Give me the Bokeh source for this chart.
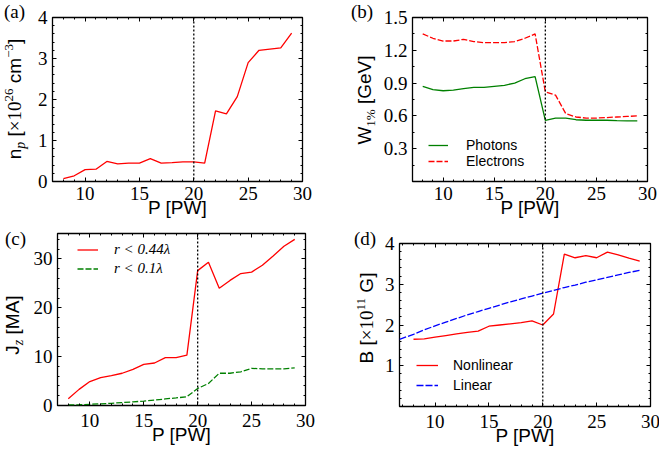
from bokeh.plotting import figure
from bokeh.models import Range1d, LinearAxis, FixedTicker, Span, Legend, LegendItem, Div
from bokeh.layouts import column, row
from bokeh.embed import file_html
from bokeh.resources import INLINE

# ---------------- data ----------------
P = [8, 9, 10, 11, 12, 13, 14, 15, 16, 17, 18, 19, 20, 21, 22, 23, 24, 25, 26, 27, 28, 29]
n_p = [0.07, 0.14, 0.29, 0.30, 0.49, 0.43, 0.45, 0.45, 0.56, 0.45, 0.46, 0.48,
       0.48, 0.45, 1.72, 1.65, 2.07, 2.90, 3.20, 3.23, 3.26, 3.62]
W_photons = [0.87, 0.84, 0.83, 0.835, 0.85, 0.86, 0.86, 0.87, 0.88, 0.90, 0.94, 0.96,
             0.56, 0.58, 0.58, 0.565, 0.56, 0.56, 0.56, 0.557, 0.555, 0.555]
W_electrons = [1.35, 1.31, 1.285, 1.285, 1.30, 1.28, 1.27, 1.27, 1.27, 1.28, 1.31, 1.35,
               0.82, 0.79, 0.62, 0.59, 0.58, 0.58, 0.585, 0.59, 0.595, 0.60]
J_r044 = [1.4, 3.3, 4.9, 5.7, 6.1, 6.6, 7.4, 8.4, 8.7, 9.8, 9.8, 10.3,
          27.6, 29.3, 24.0, 25.6, 27.0, 27.3, 28.7, 30.6, 32.6, 34.0]
J_r01 = [0.1, 0.15, 0.25, 0.35, 0.45, 0.6, 0.75, 0.9, 1.1, 1.35, 1.55, 1.8,
         3.5, 4.5, 6.6, 6.6, 6.9, 7.6, 7.5, 7.5, 7.5, 7.7]
B_nonlinear = [1.65, 1.66, 1.70, 1.74, 1.78, 1.82, 1.85, 1.97, 2.00, 2.03, 2.06, 2.10,
               2.00, 2.27, 3.74, 3.65, 3.70, 3.65, 3.79, 3.72, 3.64, 3.57]
P_linear = [6.7, 8, 9, 10, 11, 12, 13, 14, 15, 16, 17, 18, 19, 20, 21, 22, 23, 24, 25, 26, 27, 28, 29]
B_linear = [1.65, 1.77, 1.88, 1.98, 2.07, 2.16, 2.25, 2.33, 2.41, 2.49, 2.57, 2.64, 2.71,
            2.78, 2.85, 2.92, 2.98, 3.05, 3.11, 3.17, 3.23, 3.29, 3.34]
P_threshold = 20

x_ticks = [10, 15, 20, 25, 30]
ya_ticks = [0, 1, 2, 3, 4]
yb_ticks = [0.3, 0.6, 0.9, 1.2, 1.5]
yc_ticks = [0, 10, 20, 30]
yd_ticks = [1, 2, 3, 4]

SERIF = "Liberation Serif"
SANS = "Liberation Sans"
RED, GREEN, BLUE = "#ff0000", "#008000", "#0000ff"


def minor_list(lo, hi, step, majors):
    out = []
    k = 0
    while True:
        v = round(lo + k * step, 6)
        if v > hi + 1e-9:
            break
        if all(abs(v - m) > 1e-6 for m in majors):
            out.append(v)
        k += 1
    return out


def make_fig(xr, yr, fw, fh, bl, br, bt, bb, yticks, yminor_step, xstand):
    p = figure(frame_width=fw, frame_height=fh, min_border_left=bl, min_border_right=br,
               min_border_top=bt, min_border_bottom=bb, x_range=Range1d(*xr), y_range=Range1d(*yr),
               output_backend="svg", toolbar_location=None)
    p.xgrid.visible = False
    p.ygrid.visible = False
    p.outline_line_color = "black"
    p.outline_line_width = 1.3
    p.background_fill_color = "white"
    p.border_fill_color = "white"
    bottom = p.below[0]
    left = p.left[0]
    xt = FixedTicker(ticks=x_ticks, minor_ticks=minor_list(6, 30, 1, x_ticks))
    yt = FixedTicker(ticks=yticks, minor_ticks=minor_list(0, yr[1], yminor_step, yticks))
    bottom.ticker = xt
    left.ticker = yt
    top = LinearAxis(ticker=xt)
    right = LinearAxis(ticker=yt)
    p.add_layout(top, "above")
    p.add_layout(right, "right")
    for ax in [bottom, left, top, right]:
        ax.axis_line_color = None
        ax.major_tick_in = 4
        ax.major_tick_out = 0
        ax.minor_tick_in = 2
        ax.minor_tick_out = 0
        ax.major_tick_line_color = "black"
        ax.minor_tick_line_color = "black"
        ax.major_label_text_font = SERIF
        ax.major_label_text_font_size = "19px"
        ax.major_label_text_color = "black"
    for ax in [top, right]:
        ax.major_label_text_font_size = "1px"
        ax.major_label_text_color = None
        ax.major_label_standoff = 0
    bottom.major_label_standoff = xstand
    left.major_label_standoff = 5
    bottom.axis_label = "P [PW]"
    bottom.axis_label_text_font = SANS
    bottom.axis_label_text_font_size = "19px"
    bottom.axis_label_text_font_style = "normal"
    bottom.axis_label_text_color = "black"
    bottom.axis_label_standoff = -6
    p.add_layout(Span(location=P_threshold, dimension="height", line_color="black",
                      line_dash="2 2", line_width=1.3))
    return p


def legend(p, items, loc, gw, gh, standoff, font, style, size, spacing=0):
    lg = Legend(items=[LegendItem(label=l, renderers=[r]) for l, r in items], location=loc,
                orientation="vertical", border_line_color=None, background_fill_alpha=0,
                padding=0, margin=0, spacing=spacing, glyph_width=gw, glyph_height=gh,
                label_height=gh, label_standoff=standoff, label_text_font=font,
                label_text_font_style=style, label_text_font_size=f"{size}px",
                label_text_color="black")
    p.add_layout(lg)


# ---------- HTML text strips (axis titles with sub/superscripts, panel letters) ----------
def serif(txt, size=19, shift=0, italic=False):
    st = f"font-family:'{SERIF}';font-size:{size}px;"
    if italic:
        st += "font-style:italic;"
    if shift:
        st += f"position:relative;top:{shift}px;"
    return f'<span style="{st}">{txt}</span>'


def vlabel(inner, cx, cy):
    return (f'<span style="position:absolute;left:{cx}px;top:{cy}px;white-space:nowrap;'
            f"font-family:'{SANS}';font-size:19px;line-height:19px;color:#000;"
            f'transform:translate(-50%,-50%) rotate(-90deg);">{inner}</span>')


def letter(txt, x, y):
    return (f'<span style="position:absolute;left:{x}px;top:{y}px;white-space:nowrap;'
            f"font-family:'{SERIF}';font-size:19px;line-height:19px;color:#000;\">{txt}</span>")


def strip(w, h, parts):
    html = f'<div style="position:relative;width:{w}px;height:{h}px;overflow:visible;">{"".join(parts)}</div>'
    return Div(text=html, width=w, height=h, margin=(0, 0, 0, 0), disable_math=True)


TOP_H, BOT_H = 225, 232

label_a = "n" + serif("p", 14, 4, True) + " [" + serif("×10") + serif("26", 13, -8) + " cm" + serif("−3", 13, -8) + "]"
label_b = "W" + serif("1%", 13, 4) + " [GeV]"
label_c = "J" + serif("z", 14, 4, True) + " [MA]"
label_d = "B [" + serif("×10") + serif("11", 13, -8) + " G]"

sa = strip(30, TOP_H, [vlabel(label_a, 15.4, 99), letter("(a)", 4, 2)])
sb = strip(42, TOP_H, [vlabel(label_b, 30.4, 100), letter("(b)", 16, 2)])
sc = strip(30, BOT_H, [vlabel(label_c, 13.4, 99.5), letter("(c)", 5, 4)])
sd = strip(42, BOT_H, [vlabel(label_d, 29.4, 93), letter("(d)", 16, 4)])

# ---------------- (a) ----------------
fa = make_fig((7, 30), (0, 4), 250, 164, 22, 33, 17, 44, ya_ticks, 0.2, 5)
fa.line(P, n_p, line_color=RED, line_width=1.3)

# ---------------- (b) ----------------
fb = make_fig((7, 30), (0, 1.5), 235, 164, 35, 12, 17, 44, yb_ticks, 0.15, 5)
rb1 = fb.line(P, W_photons, line_color=GREEN, line_width=1.3)
rb2 = fb.line(P, W_electrons, line_color=RED, line_width=1.3, line_dash="6 2")
legend(fb, [("Photons", rb1), ("Electrons", rb2)], (16, 12), 20, 14, 18, SANS, "normal", 14, -3)

# ---------------- (c) ----------------
fc = make_fig((7, 30), (0, 35.2), 248, 172, 24, 33, 8, 52, yc_ticks, 2, 8)
rc1 = fc.line(P, J_r044, line_color=RED, line_width=1.3)
rc2 = fc.line(P, J_r01, line_color=GREEN, line_width=1.3, line_dash="6 2")
legend(fc, [("r < 0.44λ", rc1), ("r < 0.1λ", rc2)], (20, 127), 21, 19, 16, SERIF, "italic", 15)

# ---------------- (d) ----------------
fd = make_fig((6.7, 30), (0, 4), 251, 163, 19, 12, 18, 51, yd_ticks, 0.2, 8)
rd1 = fd.line(P, B_nonlinear, line_color=RED, line_width=1.3)
rd2 = fd.line(P_linear, B_linear, line_color=BLUE, line_width=1.3, line_dash="7 2")
legend(fd, [("Nonlinear", rd1), ("Linear", rd2)], (17, 11), 22, 20, 15, SANS, "normal", 14)

layout = column(row(sa, column(fa), sb, column(fb)), row(sc, column(fc), sd, column(fd)))
open("out.html", "w").write(file_html(layout, INLINE))
